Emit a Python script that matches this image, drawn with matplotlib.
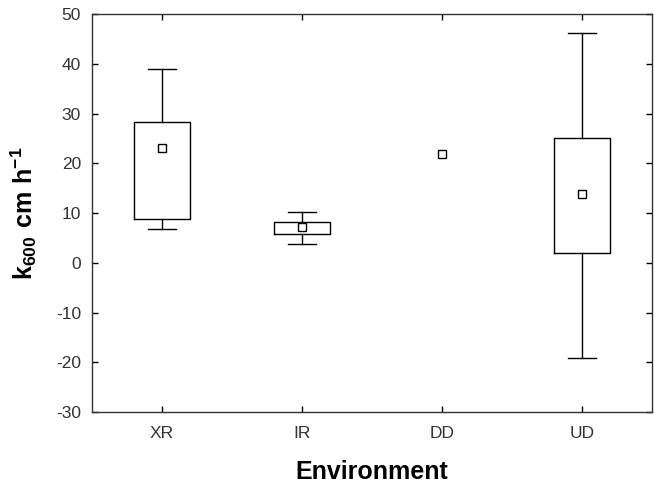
import numpy as np
import matplotlib
matplotlib.use('Agg')
import matplotlib.pyplot as plt

categories = ['XR', 'IR', 'DD', 'UD']
medians = [23.0, 7.2, 21.9, 13.8]
box_lo = [8.8, 5.9, np.nan, 1.9]
box_hi = [28.3, 8.3, np.nan, 25.2]
whisk_lo = [6.9, 3.7, np.nan, -19.2]
whisk_hi = [38.9, 10.3, np.nan, 46.2]

plt.rcParams['font.family'] = ['Liberation Sans', 'DejaVu Sans']
plt.rcParams['axes.unicode_minus'] = False
plt.rcParams['mathtext.fontset'] = 'custom'
plt.rcParams['mathtext.rm'] = 'Liberation Sans'
plt.rcParams['mathtext.bf'] = 'Liberation Sans:bold'

fig = plt.figure(figsize=(6.54, 4.9), dpi=100)
ax = fig.add_axes([0.1407, 0.159, 0.8563, 0.812])

pos = np.arange(len(categories))
stats = []
stat_pos = []
for i in range(len(categories)):
    if np.isnan(box_lo[i]):
        continue
    stats.append(dict(med=medians[i], q1=box_lo[i], q3=box_hi[i],
                      whislo=whisk_lo[i], whishi=whisk_hi[i], fliers=[]))
    stat_pos.append(pos[i])

lw = 1.0
ax.bxp(stats, positions=stat_pos, widths=0.405, showfliers=False,
       boxprops=dict(color='black', linewidth=lw),
       whiskerprops=dict(color='black', linewidth=lw),
       capprops=dict(color='black', linewidth=lw),
       medianprops=dict(visible=False), capwidths=0.2)

ax.plot(pos, medians, linestyle='none', marker='s', markersize=6,
        markerfacecolor='white', markeredgecolor='black', markeredgewidth=1.0,
        zorder=5)

ax.set_xlim(-0.5, 3.5)
ax.set_ylim(-30, 50)
ax.set_xticks(pos)
ax.set_xticklabels(categories)
ax.set_yticks(np.arange(-30, 51, 10))

ax.tick_params(direction='in', top=True, right=True, length=4, width=1,
               labelsize=12.5, labelcolor='#333333', pad=10)
ax.tick_params(axis='y', pad=8)
for s in ax.spines.values():
    s.set_linewidth(1.0)
    s.set_color('#333333')

ax.set_xlabel('Environment', fontsize=18, fontweight='bold', labelpad=14)
ax.set_ylabel(r'$\mathbf{k_{600}\ cm\ h^{-1}}$', fontsize=18, labelpad=12)

fig.savefig('out.png', dpi=100)
